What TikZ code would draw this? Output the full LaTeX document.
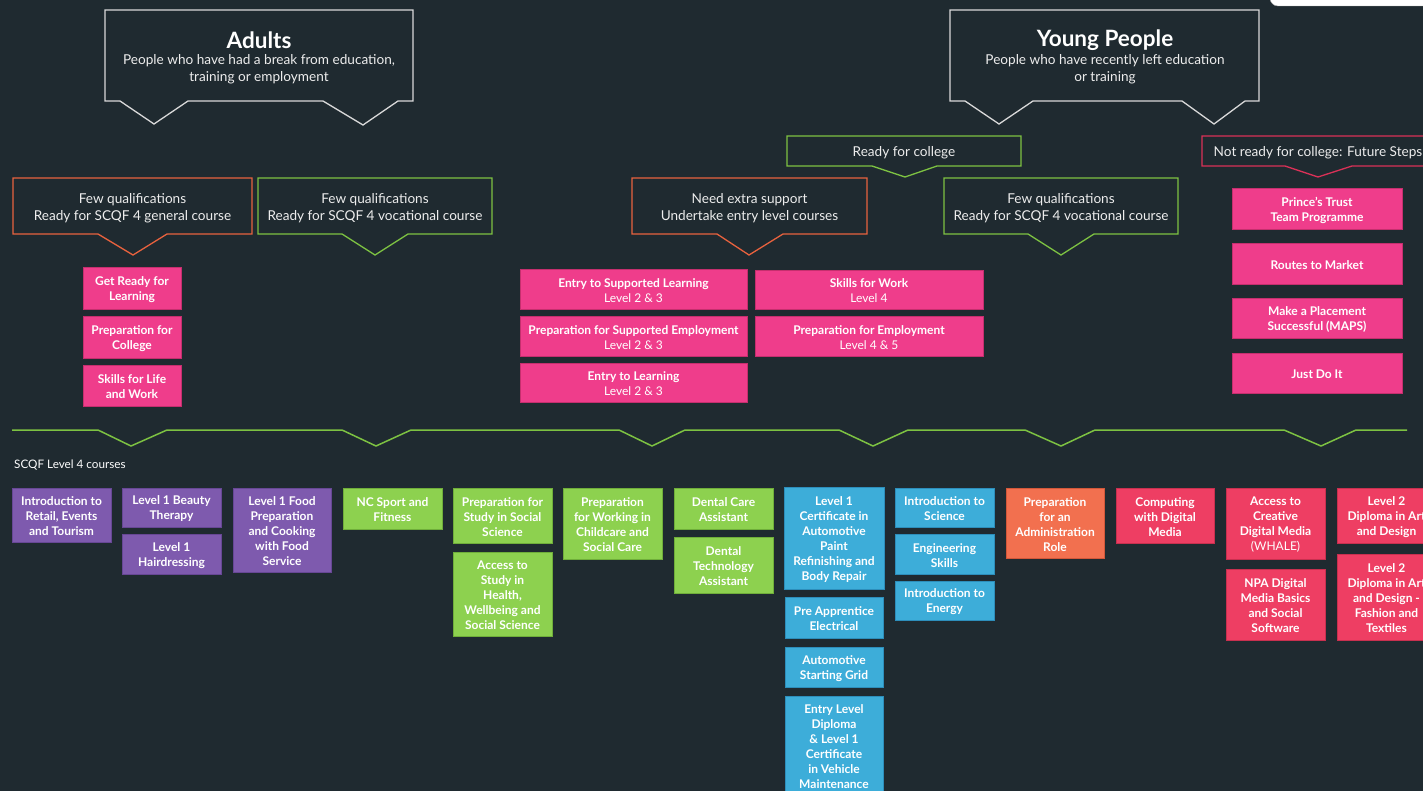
\documentclass[tikz,border=0pt]{standalone}
\usepackage{fontspec}
\setmainfont{Lato}

\definecolor{bg}{HTML}{1F2A30}
\definecolor{txt}{HTML}{EDEDED}
\definecolor{calloutline}{HTML}{D9D9D9}
\definecolor{lineorange}{HTML}{E8623E}
\definecolor{linegreen}{HTML}{7DC242}
\definecolor{linered}{HTML}{D93157}
\definecolor{pinkF}{HTML}{EF3D8B}\definecolor{pinkD}{HTML}{C52F6E}
\definecolor{purpleF}{HTML}{7E5AAE}\definecolor{purpleD}{HTML}{674795}
\definecolor{greenF}{HTML}{8DD14F}\definecolor{greenD}{HTML}{6FAE3A}
\definecolor{blueF}{HTML}{3DADD9}\definecolor{blueD}{HTML}{2D8EBB}
\definecolor{orangeF}{HTML}{F2704F}\definecolor{orangeD}{HTML}{D2583A}
\definecolor{redF}{HTML}{EE3E63}\definecolor{redD}{HTML}{C8304F}

% course box: style, name, x1, y1, x2, y2, text
% the box is one node, its label a second node set a little lower
\newcommand\coursebox[7]{%
  \pgfmathsetmacro\cbw{#5-#3}%
  \pgfmathsetmacro\cbh{#6-#4}%
  \pgfmathsetmacro\cbx{(#3+#5)/2}%
  \pgfmathsetmacro\cby{(#4+#6)/2}%
  \node[course,#1,minimum width=\cbw pt,minimum height=\cbh pt] (#2) at (\cbx,\cby) {};%
  \node[coursetext] (#2-t) at ([yshift=-1.5pt]#2.center) {#7};%
}

\begin{document}
\begin{tikzpicture}[x=1pt,y=-1pt,
  course/.style={inner sep=0pt,line width=0.9pt},
  coursetext/.style={inner sep=0pt,align=center,text=white,
    font=\bfseries\fontsize{12}{15}\selectfont},
  pinkbox/.style={fill=pinkF,draw=pinkD},
  purplebox/.style={fill=purpleF,draw=purpleD},
  greenbox/.style={fill=greenF,draw=greenD},
  bluebox/.style={fill=blueF,draw=blueD},
  orangebox/.style={fill=orangeF,draw=orangeD},
  redbox/.style={fill=redF,draw=redD},
  calltitle/.style={text=white,inner sep=0pt,font=\bfseries\fontsize{22.5}{26}\selectfont},
  calltext/.style={text=txt,inner sep=0pt,align=center,font=\fontsize{13.6}{17}\selectfont},
  callout/.style={line width=1.3pt,line join=miter},
  zigzag/.style={draw=linegreen,line width=1.5pt},
]
\useasboundingbox (0,0) rectangle (1423,791);
\fill[bg] (0,0) rectangle (1423,791);
\clip (0,0) rectangle (1423,791);

% tab at the top right
\draw[fill=white,draw=gray!60,rounded corners=8pt] (1270,-12) rectangle (1440,6);

% audience callouts
\draw[callout,draw=calloutline] (105,10) -- (413,10) -- (413,101) -- (398,101) -- (363,125)
  -- (323,101) -- (188,101) -- (154,124) -- (120,101) -- (105,101) -- cycle;
\node[calltitle] (adultsT) at (259,40.5) {Adults};
\node[calltext] (adultsB) at (259,69.5) {People who have had a break from education,\\training or employment};

\draw[callout,draw=calloutline] (950,10) -- (1259,10) -- (1259,101) -- (1245,101) -- (1214,124)
  -- (1182,101) -- (1033,101) -- (999,124) -- (965,101) -- (950,101) -- cycle;
\node[calltitle] (youngT) at (1105,40.5) {Young People};
\node[calltext] (youngB) at (1105,69.5) {People who have recently left education\\or training};

% route callouts
\draw[callout,draw=lineorange] (13,178) -- (252,178) -- (252,234) -- (167,234) -- (133,255)
  -- (98,234) -- (13,234) -- cycle;
\node[calltext] (genA) at (132.5,208) {Few qualifications\\Ready for SCQF 4 general course};

\draw[callout,draw=linegreen] (258,178) -- (492,178) -- (492,234) -- (408,234) -- (375,255)
  -- (342,234) -- (258,234) -- cycle;
\node[calltext] (vocA) at (375,208) {Few qualifications\\Ready for SCQF 4 vocational course};

\draw[callout,draw=linegreen] (787,136) -- (1021,136) -- (1021,166) -- (937,166) -- (905,177)
  -- (872,166) -- (787,166) -- cycle;
\node[calltext] (ready) at (904,152.5) {Ready for college};

\draw[callout,draw=lineorange] (632,178) -- (867,178) -- (867,234) -- (783,234) -- (749,255)
  -- (717,234) -- (632,234) -- cycle;
\node[calltext] (extra) at (749.5,208) {Need extra support\\Undertake entry level courses};

\draw[callout,draw=linegreen] (944,178) -- (1178,178) -- (1178,234) -- (1094,234) -- (1061,255)
  -- (1028,234) -- (944,234) -- cycle;
\node[calltext] (vocY) at (1061,208) {Few qualifications\\Ready for SCQF 4 vocational course};

\draw[callout,draw=linered] (1202,136) -- (1436,136) -- (1436,166) -- (1352,166) -- (1318,177)
  -- (1285,166) -- (1202,166) -- cycle;
\node[calltext] (notready) at (1318,152.5) {Not ready for college: Future Steps};

% adult entry courses
\coursebox{pinkbox}{getready}{83}{267}{181}{309}{Get Ready for\\Learning}
\coursebox{pinkbox}{prepcollege}{83}{316}{181}{358}{Preparation for\\College}
\coursebox{pinkbox}{lifework}{83}{365}{181}{406}{Skills for Life\\and Work}

% entry level courses
\coursebox{pinkbox}{suplearn}{520}{269}{747}{309}{Entry to Supported Learning\\{\mdseries Level 2 \& 3}}
\coursebox{pinkbox}{supemploy}{520}{316}{747}{356}{Preparation for Supported Employment\\{\mdseries Level 2 \& 3}}
\coursebox{pinkbox}{entrylearn}{520}{363}{747}{402}{Entry to Learning\\{\mdseries Level 2 \& 3}}
\coursebox{pinkbox}{skillswork}{755}{270}{983}{309}{Skills for Work\\{\mdseries Level 4}}
\coursebox{pinkbox}{prepemploy}{755}{316}{983}{356}{Preparation for Employment\\{\mdseries Level 4 \& 5}}

% future steps
\coursebox{pinkbox}{princes}{1232}{188}{1402}{229}{Prince’s Trust\\Team Programme}
\coursebox{pinkbox}{routes}{1232}{243}{1402}{284}{Routes to Market}
\coursebox{pinkbox}{maps}{1232}{298}{1402}{338}{Make a Placement\\Successful (MAPS)}
\coursebox{pinkbox}{justdo}{1232}{353}{1402}{393}{Just Do It}

% divider
\draw[zigzag] (12,430) -- (98,430) -- (131,446) -- (167,430) -- (342,430) -- (376,446)
  -- (411,430) -- (619,430) -- (652,446) -- (685,430) -- (839,430) -- (873,446) -- (908,430)
  -- (1025,430) -- (1061,446) -- (1095,430) -- (1284,430) -- (1321,446) -- (1356,430) -- (1407,430);

\node[anchor=west,inner sep=0pt,text=white,font=\fontsize{11.7}{14}\selectfont] (scqf) at (14,465.5) {SCQF Level 4 courses};

% SCQF level 4 courses
\coursebox{purplebox}{retail}{12}{488}{111}{542}{Introduction to\\Retail, Events\\and Tourism}
\coursebox{purplebox}{beauty}{122}{488}{221}{527}{Level 1 Beauty\\Therapy}
\coursebox{purplebox}{hair}{122}{534}{221}{574}{Level 1\\Hairdressing}
\coursebox{purplebox}{food}{233}{488}{331}{572}{Level 1 Food\\Preparation\\and Cooking\\with Food\\Service}
\coursebox{greenbox}{sport}{343}{488}{442}{529}{NC Sport and\\Fitness}
\coursebox{greenbox}{socsci}{453}{488}{552}{543}{Preparation for\\Study in Social\\Science}
\coursebox{greenbox}{health}{453}{552}{552}{636}{Access to\\Study in\\Health,\\Wellbeing and\\Social Science}
\coursebox{greenbox}{childcare}{563}{488}{662}{559}{Preparation\\for Working in\\Childcare and\\Social Care}
\coursebox{greenbox}{dentalcare}{674}{488}{773}{529}{Dental Care\\Assistant}
\coursebox{greenbox}{dentaltech}{674}{537}{773}{593}{Dental\\Technology\\Assistant}
\coursebox{bluebox}{paint}{784}{487}{884}{589}{Level 1\\Certificate in\\Automotive\\Paint\\Refinishing and\\Body Repair}
\coursebox{bluebox}{electrical}{785}{597}{883}{638}{Pre Apprentice\\Electrical}
\coursebox{bluebox}{startgrid}{785}{647}{883}{687}{Automotive\\Starting Grid}
\coursebox{bluebox}{vehicle}{785}{696}{883}{795}{Entry Level\\Diploma\\\& Level 1\\Certificate\\in Vehicle\\Maintenance}
\coursebox{bluebox}{science}{895}{488}{994}{527}{Introduction to\\Science}
\coursebox{bluebox}{engineering}{895}{534}{994}{574}{Engineering\\Skills}
\coursebox{bluebox}{energy}{895}{581}{994}{620}{Introduction to\\Energy}
\coursebox{orangebox}{admin}{1006}{488}{1104}{558}{Preparation\\for an\\Administration\\Role}
\coursebox{redbox}{computing}{1116}{488}{1214}{543}{Computing\\with Digital\\Media}
\coursebox{redbox}{whale}{1226}{488}{1325}{559}{Access to\\Creative\\Digital Media\\{\mdseries (WHALE)}}
\coursebox{redbox}{npa}{1226}{569}{1325}{640}{NPA Digital\\Media Basics\\and Social\\Software}
\coursebox{redbox}{artdesign}{1337}{488}{1436}{543}{Level 2\\Diploma in Art\\and Design}
\coursebox{redbox}{fashion}{1337}{554}{1436}{640}{Level 2\\Diploma in Art\\and Design -\\Fashion and\\Textiles}
\end{tikzpicture}
\end{document}
